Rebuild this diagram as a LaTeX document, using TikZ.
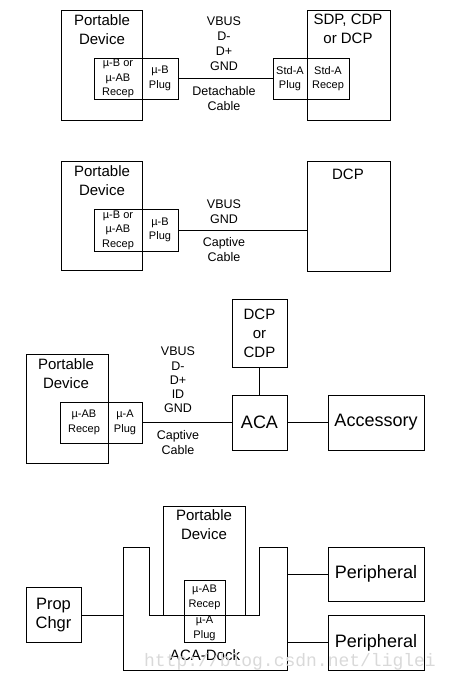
\documentclass[tikz,border=0pt]{standalone}
\usepackage{fontspec}
\setmainfont{Liberation Sans}
\newfontfamily\wmfont{Liberation Mono}
\begin{document}
\begin{tikzpicture}[x=1pt,y=-1pt,
  box/.style={draw, line width=0.9pt, inner sep=0pt, align=center, rectangle},
  txt/.style={inner sep=0pt, align=center},
  bigf/.style={font=\fontsize{15}{19}\selectfont},
  hugef/.style={font=\fontsize{18}{22}\selectfont},
  smallf/.style={font=\fontsize{11}{14.5}\selectfont},
  sigf/.style={font=\fontsize{12.5}{15}\selectfont},
  wire/.style={line width=0.9pt}]
\useasboundingbox (0,0) rectangle (451,685);

% ---------- Section 1 ----------
\node[box, minimum width=81, minimum height=110] (pd1) at (101.5,65) {};
\node[box, minimum width=83, minimum height=110] (sdp) at (348.5,65) {};
\node[box, smallf, minimum width=48, minimum height=41] (rec1) at (118,78.5) {µ-B or\\µ-AB\\Recep};
\node[box, smallf, minimum width=36, minimum height=41] (plug1) at (160,78.5) {µ-B\\Plug};
\node[box, smallf, minimum width=34, minimum height=41] (splug) at (290,78.5) {Std-A\\Plug};
\node[box, smallf, minimum width=42, minimum height=41] (srec) at (328,78.5) {Std-A\\Recep};
\node[txt, bigf] (pd1t) at (102,30) {Portable\\Device};
\node[txt, bigf] (sdpt) at (348,29) {SDP, CDP\\or DCP};
\node[txt, sigf] (sig1) at (224,44) {VBUS\\D-\\D+\\GND};
\node[txt, sigf] (cab1) at (224,99) {Detachable\\Cable};
\draw[wire] (plug1.east) -- (splug.west);

% ---------- Section 2 ----------
\node[box, minimum width=81, minimum height=109] (pd2) at (101.5,215.5) {};
\node[box, minimum width=83, minimum height=110] (dcp2) at (348.5,216) {};
\node[box, smallf, minimum width=48, minimum height=42] (rec2) at (118,230) {µ-B or\\µ-AB\\Recep};
\node[box, smallf, minimum width=36, minimum height=42] (plug2) at (160,230) {µ-B\\Plug};
\node[txt, bigf] (pd2t) at (102,181) {Portable\\Device};
\node[txt, bigf] (dcp2t) at (348,174) {DCP};
\node[txt, sigf] (sig2) at (224,212) {VBUS\\GND};
\node[txt, sigf] (cab2) at (224,250) {Captive\\Cable};
\draw[wire] (plug2.east) -- (plug2.east -| dcp2.west);

% ---------- Section 3 ----------
\node[box, minimum width=82, minimum height=109] (pd3) at (67,408.5) {};
\node[box, smallf, minimum width=48, minimum height=41] (rec3) at (84,422.5) {µ-AB\\Recep};
\node[box, smallf, minimum width=34, minimum height=41] (plug3) at (125,422.5) {µ-A\\Plug};
\node[box, hugef, minimum width=55, minimum height=55] (aca) at (259.5,422.5) {ACA};
\node[box, bigf, minimum width=55, minimum height=68] (dcp3) at (259.5,333) {DCP\\or\\CDP};
\node[box, hugef, minimum width=96, minimum height=55] (acc) at (376,422.5) {Accessory};
\node[txt, bigf] (pd3t) at (66,374) {Portable\\Device};
\node[txt, sigf, font=\fontsize{12.5}{14.2}\selectfont] (sig3) at (178,380) {VBUS\\D-\\D+\\ID\\GND};
\node[txt, sigf] (cab3) at (178,443) {Captive\\Cable};
\draw[wire] (plug3.east) -- (aca.west);
\draw[wire] (dcp3.south) -- (aca.north);
\draw[wire] (aca.east) -- (acc.west);

% ---------- Section 4 ----------
\node[box, minimum width=82, minimum height=109] (pd4) at (204,560.5) {};
\draw[wire] (149,615) -- (149,547) -- (123,547) -- (123,670) -- (287,670)
  -- (287,547) -- (259,547) -- (259,615) -- cycle;
\node[box, smallf, minimum width=41, minimum height=35] (rec4) at (204.5,597.5) {µ-AB\\Recep};
\node[box, smallf, minimum width=41, minimum height=27] (plug4) at (204.5,628.5) {µ-A\\Plug};
\node[box, bigf, font=\fontsize{16.5}{19}\selectfont, minimum width=55, minimum height=55] (chgr) at (53.5,615) {Prop\\Chgr};
\node[box, hugef, minimum width=96, minimum height=54] (per1) at (376,574) {Peripheral};
\node[box, hugef, minimum width=96, minimum height=55] (per2) at (376,642.5) {Peripheral};
\coordinate (dockL) at (123,615);
\coordinate (dockR1) at (287,574);
\coordinate (dockR2) at (287,642.5);
\node[txt, bigf] (pd4t) at (204,525) {Portable\\Device};
\node[txt, bigf] (dockt) at (205,655) {ACA-Dock};
\draw[wire] (chgr.east) -- (dockL);
\draw[wire] (dockR1) -- (per1.west);
\draw[wire] (dockR2) -- (per2.west);

% watermark
\node[txt, text=black!15, font=\wmfont\fontsize{18}{18}\selectfont] (wm) at (290,662) {http://blog.csdn.net/liglei};
\end{tikzpicture}
\end{document}
